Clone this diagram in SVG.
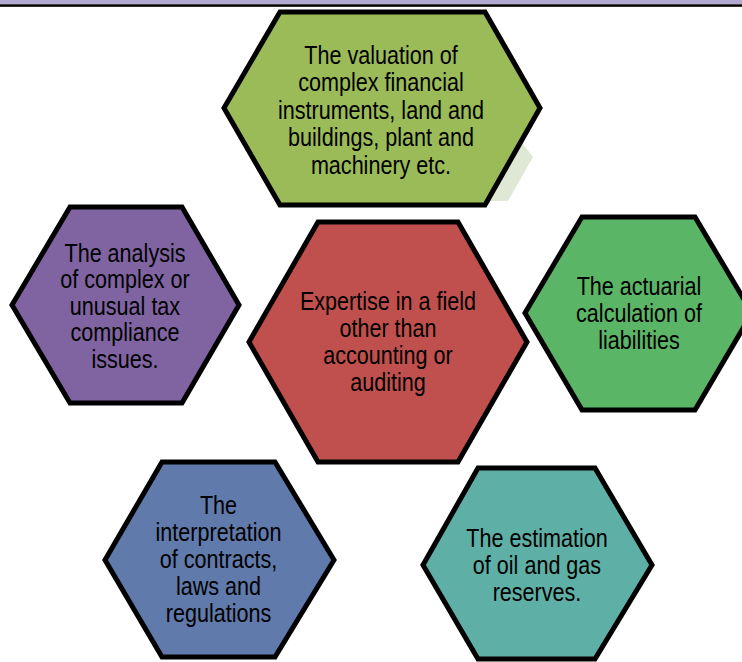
<svg xmlns="http://www.w3.org/2000/svg" width="742" height="662" viewBox="0 0 742 662">
<style>
.hex{stroke:#000;stroke-width:5;stroke-linejoin:miter}
.t{font-family:"Liberation Sans",Arial,sans-serif;font-size:26px;fill:#000;text-anchor:middle}
</style>
<rect x="0" y="0" width="742" height="742" fill="#fff"/>
<rect x="0" y="0" width="742" height="4.3" fill="#B2AAD2"/>
<rect x="0" y="4.3" width="742" height="2.5" fill="#000"/>
<polygon points="516,135 533,157 508,201 488,201" fill="#DFE8D5"/>
<g id="node-valuation">
<polygon class="hex" points="280,12 485,12 540,108 485,205 280,205 224,108" fill="#9BBB59"/>
<text class="t" transform="translate(381,0) scale(0.83,1)"><tspan x="0" y="64">The valuation of</tspan><tspan x="0" y="91.5">complex financial</tspan><tspan x="0" y="119">instruments, land and</tspan><tspan x="0" y="146.5">buildings, plant and</tspan><tspan x="0" y="174">machinery etc.</tspan></text>
</g>
<g id="node-center">
<polygon class="hex" points="318,222 458,222 527,342 458,462 318,462 249,342" fill="#C0504D"/>
<text class="t" transform="translate(388,0) scale(0.83,1)"><tspan x="0" y="310">Expertise in a field</tspan><tspan x="0" y="337">other than</tspan><tspan x="0" y="364">accounting or</tspan><tspan x="0" y="391">auditing</tspan></text>
</g>
<g id="node-tax">
<polygon class="hex" points="70,207 182,207 239,305 182,403 70,403 12,305" fill="#8064A2"/>
<text class="t" transform="translate(125,0) scale(0.83,1)"><tspan x="0" y="262">The analysis</tspan><tspan x="0" y="288.5">of complex or</tspan><tspan x="0" y="315">unusual tax</tspan><tspan x="0" y="341.5">compliance</tspan><tspan x="0" y="368">issues.</tspan></text>
</g>
<g id="node-actuarial">
<polygon class="hex" points="582,217 695,217 752,313 695,410 582,410 525,313" fill="#5BB567"/>
<text class="t" transform="translate(639,0) scale(0.83,1)"><tspan x="0" y="295">The actuarial</tspan><tspan x="0" y="322">calculation of</tspan><tspan x="0" y="349">liabilities</tspan></text>
</g>
<g id="node-contracts">
<polygon class="hex" points="162,462 275,462 334,560 275,657 162,657 105,560" fill="#5F7AAB"/>
<text class="t" transform="translate(218.5,0) scale(0.83,1)"><tspan x="0" y="514">The</tspan><tspan x="0" y="541">interpretation</tspan><tspan x="0" y="568">of contracts,</tspan><tspan x="0" y="595">laws and</tspan><tspan x="0" y="622">regulations</tspan></text>
</g>
<g id="node-oil">
<polygon class="hex" points="478,468 595,468 652,565 595,659 478,659 423,565" fill="#5EB0A6"/>
<text class="t" transform="translate(537,0) scale(0.83,1)"><tspan x="0" y="547">The estimation</tspan><tspan x="0" y="574">of oil and gas</tspan><tspan x="0" y="601">reserves.</tspan></text>
</g>
<g id="connectors"></g>
</svg>
